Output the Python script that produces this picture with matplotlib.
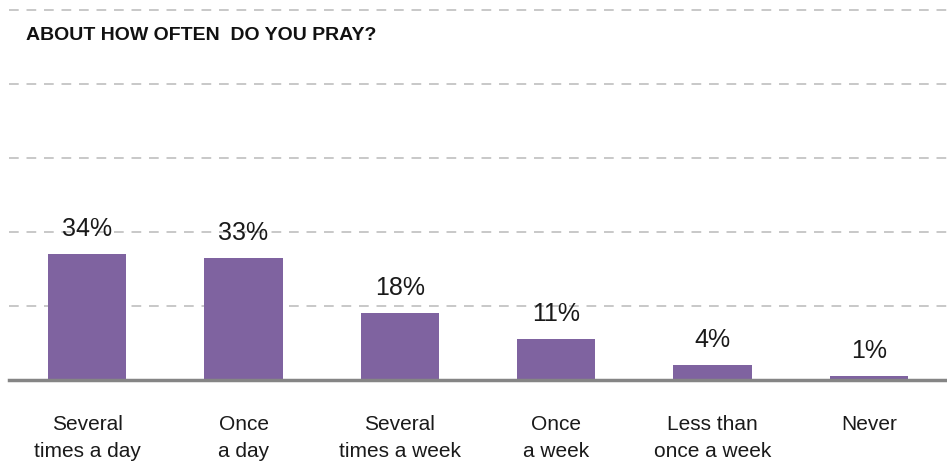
import matplotlib
matplotlib.use('Agg')
from matplotlib import pyplot as plt

categories = ['Several\ntimes a day', 'Once\na day', 'Several\ntimes a week',
              'Once\na week', 'Less than\nonce a week', 'Never']
values = [34, 33, 18, 11, 4, 1]
labels = ['34%', '33%', '18%', '11%', '4%', '1%']
gridlines = [20, 40, 60, 80, 100]

plt.rcParams['font.family'] = ['Liberation Sans', 'DejaVu Sans']

fig = plt.figure(figsize=(9.47, 4.66), dpi=100)
ax = fig.add_axes([9 / 947, 1 - 380 / 466, 938 / 947, 370 / 466])

x = list(range(len(values)))
ax.bar(x, values, width=0.5, color='#7f63a0', zorder=3)

for g in gridlines:
    ax.axhline(g, color='#c8c8c8', lw=1.4, ls=(0, (5, 4)), zorder=1, clip_on=False)
ax.axhline(0, color='#858585', lw=2.5, zorder=4, clip_on=False)

# percent labels above the bars
for xi, v, t in zip(x, values, labels):
    ax.text(xi, v + 3.5, t, ha='center', va='bottom', fontsize=18, color='#1a1a1a')

for xi, c in zip(x, categories):
    ax.text(xi, -9.5, c, ha='center', va='top', fontsize=15, color='#1a1a1a',
            linespacing=1.55)

ax.text(26 / 947, 1 - 36 / 466, 'ABOUT HOW OFTEN  DO YOU PRAY?', transform=fig.transFigure,
        ha='left', va='center', fontsize=14, fontweight='bold', color='#111111')

ax.set_xlim(-0.5, 5.5)
ax.set_ylim(0, 100)
ax.axis('off')

fig.savefig('out.png', dpi=100)
